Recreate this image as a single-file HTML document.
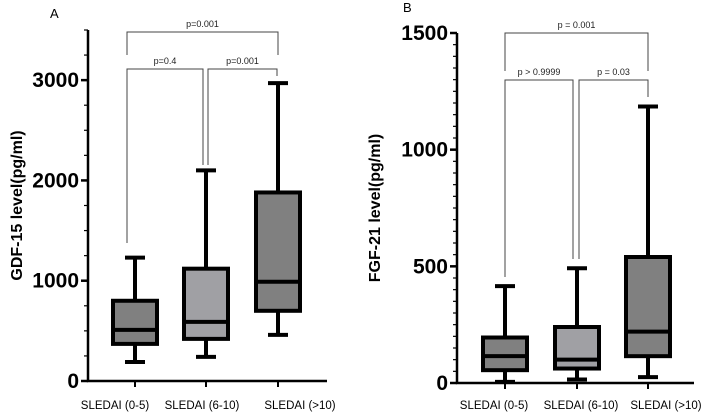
<!DOCTYPE html>
<html><head><meta charset="utf-8"><style>
body{margin:0;background:#fff;}
svg{display:block;font-family:"Liberation Sans",sans-serif;}
</style></head><body>
<svg id="chart" width="702" height="416"></svg>
<script>
const categories=["SLEDAI (0-5)","SLEDAI (6-10)","SLEDAI (>10)"];
const gdfMin=[190,240,460];
const gdfQ1=[370,420,700];
const gdfMed=[510,590,990];
const gdfQ3=[800,1120,1880];
const gdfMax=[1230,2100,2970];
const gdfTicks=[0,1000,2000,3000];
const fgfMin=[5,15,25];
const fgfQ1=[55,62,115];
const fgfMed=[115,100,220];
const fgfQ3=[195,240,540];
const fgfMax=[415,492,1185];
const fgfTicks=[0,500,1000,1500];
const fills=["#808080","#a0a0a4","#808080"];
const NS="http://www.w3.org/2000/svg";
const svg=document.getElementById('chart');
function mk(tag,attrs,parent){const e=document.createElementNS(NS,tag);for(const k in attrs)e.setAttribute(k,attrs[k]);(parent||svg).appendChild(e);return e;}
function panel(cfg){
  const g=mk('g',{});
  
  
  const y=v=>cfg.y0-(v/cfg.max)*(cfg.y0-cfg.yTop);
  const xs=cfg.xs;
  const ax=mk('path',{d:`M${cfg.ax},${cfg.yTop} V${cfg.y0} H${cfg.axEnd}`,stroke:'#000','stroke-width':2.5,fill:'none'},g);
  
  
  for(let v=0;v<=cfg.max+1e-6;v+=cfg.minor){
    const major=cfg.ticks.includes(Math.round(v));
    mk('line',{x1:cfg.ax-(major?7:4),x2:cfg.ax,y1:y(v),y2:y(v),stroke:'#000','stroke-width':major?2.5:1.2},g);
  }
  cfg.ticks.forEach(t=>{
    const tx=mk('text',{x:cfg.ax-9,y:y(t)+7,'text-anchor':'end','font-size':21,'font-weight':'bold'},g);
    tx.textContent=t;
    
    
  });
  const yl=mk('text',{transform:`translate(${cfg.ylx},${(cfg.y0+cfg.yTop)/2}) rotate(-90)`,'text-anchor':'middle','font-size':16,'font-weight':'bold'},g);
  yl.textContent=cfg.ylabel;
  
  
  const pl=mk('text',{x:cfg.letterX,y:cfg.letterY,'font-size':13},g);
  pl.textContent=cfg.letter;
  
  
  categories.forEach((c,i)=>{
    const x=xs[i],hw=22;
    mk('line',{x1:x,x2:x,y1:cfg.y0,y2:cfg.y0+6,stroke:'#000','stroke-width':2},g);
    const bg=mk('g',{},g);
    
    
    mk('line',{x1:x,x2:x,y1:y(cfg.mx[i]),y2:y(cfg.mn[i]),stroke:'#000','stroke-width':4},bg);
    mk('line',{x1:x-10,x2:x+10,y1:y(cfg.mx[i]),y2:y(cfg.mx[i]),stroke:'#000','stroke-width':4},bg);
    mk('line',{x1:x-10,x2:x+10,y1:y(cfg.mn[i]),y2:y(cfg.mn[i]),stroke:'#000','stroke-width':4},bg);
    mk('rect',{x:x-hw,y:y(cfg.q3[i]),width:hw*2,height:y(cfg.q1[i])-y(cfg.q3[i]),fill:fills[i],stroke:'#000','stroke-width':4},bg);
    mk('line',{x1:x-hw,x2:x+hw,y1:y(cfg.md[i]),y2:y(cfg.md[i]),stroke:'#000','stroke-width':4},bg);
    const t=mk('text',{x:cfg.lx[i],y:409,'text-anchor':'middle','font-size':11.5},g);
    t.textContent=c;
    
    
  });
  cfg.brackets.forEach(b=>{
    const bg=mk('g',{},g);
    
    
    mk('path',{d:`M${b[0]},${b[3]} V${b[2]} H${b[1]} V${b[4]}`,stroke:'#444','stroke-width':1,fill:'none'},bg);
    const t=mk('text',{x:(b[0]+b[1])/2,y:b[2]-5,'text-anchor':'middle','font-size':9,fill:'#222'},bg);
    t.textContent=b[5];
  });
}
panel({name:'panel-a-gdf15',ax:88,axEnd:327,y0:381,yTop:30,max:3500,minor:250,ticks:gdfTicks,xs:[135,206,278],lx:[115,202,300],
  mn:gdfMin,q1:gdfQ1,md:gdfMed,q3:gdfQ3,mx:gdfMax,ylabel:'GDF-15 level(pg/ml)',ylx:22,letter:'A',letterX:50,letterY:18,
  brackets:[[127,278,32,55,55,'p=0.001'],[127,203,69,243,165,'p=0.4'],[208,277,69,165,76,'p=0.001']]});
panel({name:'panel-b-fgf21',ax:457,axEnd:694,y0:383,yTop:33,max:1500,minor:50,ticks:fgfTicks,xs:[505,577,648],lx:[494,581,666],
  mn:fgfMin,q1:fgfQ1,md:fgfMed,q3:fgfQ3,mx:fgfMax,ylabel:'FGF-21 level(pg/ml)',ylx:380,letter:'B',letterX:403,letterY:12,
  brackets:[[505,648,33,71,71,'p = 0.001'],[505,573,80,277,259,'p > 0.9999'],[579,648,80,259,97,'p = 0.03']]});
</script>
</body></html>
